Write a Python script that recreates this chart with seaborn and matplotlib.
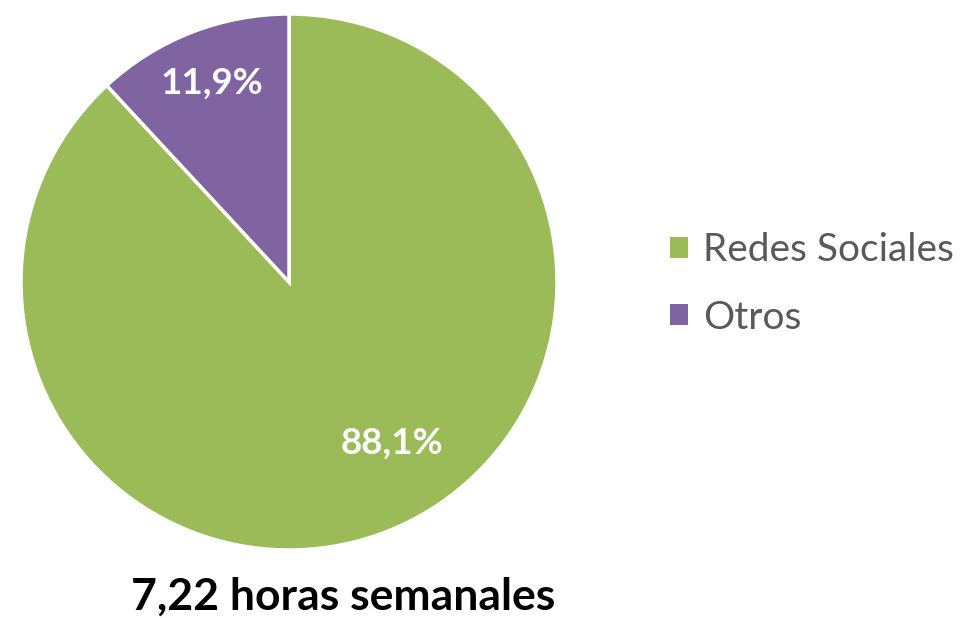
import matplotlib
matplotlib.use("Agg")
import matplotlib.pyplot as plt
import seaborn as sns

sns.set_theme(style="white")
plt.rcParams['font.family'] = ['Lato', 'DejaVu Sans']

categories = ["Redes Sociales", "Otros"]
values = [88.1, 11.9]
value_labels = ["88,1%", "11,9%"]
colors = ["#9BBB59", "#8064A2"]
title = "7,22 horas semanales"

W, H = 962, 618
fig = plt.figure(figsize=(W / 100, H / 100), dpi=100)
cx, cy, r = 289, 282, 268
ax = fig.add_axes([(cx - r) / W, (H - cy - r) / H, 2 * r / W, 2 * r / H])

wedges, _ = ax.pie(values, colors=colors, startangle=90, counterclock=False,
                   radius=1.0, wedgeprops=dict(edgecolor="white", linewidth=2.5))
ax.set_xlim(-1, 1)
ax.set_ylim(-1, 1)
ax.set_aspect("equal")
ax.axis("off")

label_pos = [(0.385, -0.60), (-0.287, 0.74)]
for (x, y), txt in zip(label_pos, value_labels):
    ax.text(x, y, txt, ha="center", va="center", color="white",
            fontsize=26.5, fontweight="bold")

fig.text(343 / W, 1 - 597 / H, title, ha="center", va="center",
         fontsize=32, fontweight="bold", color="black")

leg = fig.legend(wedges, categories, loc="center left",
                 bbox_to_anchor=(670 / W, 1 - 284 / H), frameon=False,
                 borderpad=0, borderaxespad=0,
                 fontsize=28, handlelength=0.46, handleheight=0.46,
                 handletextpad=0.4, labelspacing=0.8, labelcolor="#595959")
for h in leg.legend_handles:
    h.set_edgecolor("none")

fig.savefig("out.png", dpi=100)
